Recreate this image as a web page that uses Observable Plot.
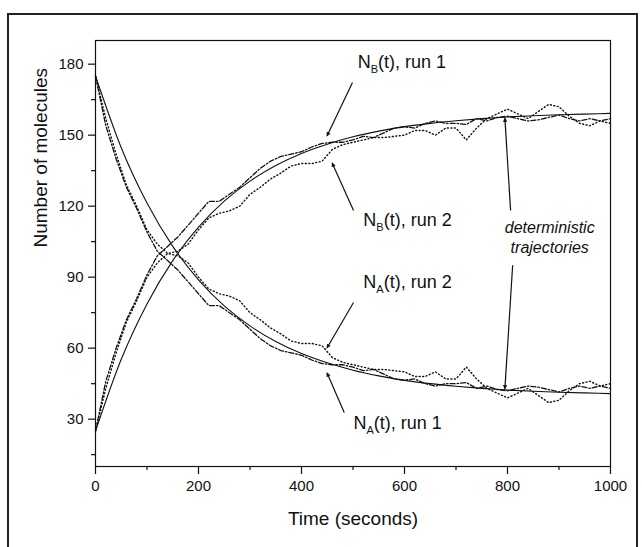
<!DOCTYPE html>
<html><head><meta charset="utf-8">
<script src="https://cdn.jsdelivr.net/npm/d3@7"></script>
<script src="https://cdn.jsdelivr.net/npm/@observablehq/plot@0.6"></script>
<style>
body{margin:0;background:#fff;}
#wrap{position:relative;width:642px;height:547px;overflow:hidden;font-family:"Liberation Sans",Arial,sans-serif;background:#fff;}
#frame{position:absolute;left:7px;top:13px;width:631px;height:600px;border:2.5px solid #222;box-sizing:border-box;}
#chart{position:absolute;left:0;top:0;}
</style></head><body>
<div id="wrap"><div id="frame"></div><div id="chart"></div></div>
<script>
// stochastic runs, sampled every 20 s
const time = [0,20,40,60,80,100,120,140,160,180,200,220,240,260,280,300,320,340,360,380,400,420,440,460,480,500,520,540,560,580,600,620,640,660,680,700,720,740,760,780,800,820,840,860,880,900,920,940,960,980,1000];
const nA1 = [175,154,140,128,119,109,101,97,93,88,83,78,78,75,72,68,64,61,59,58,57,55,53.5,53,53,52,50.5,51,49,47,46.5,47,45,44,45,45,45.5,43,44,42.5,42,43,44,43.5,42.5,41.5,43,44,43,44,43];
const nB1 = [25,46,60,72,81,91,99,103,107,112,117,122,122,125,128,132,136,139,141,142,143,145,146.5,147,147,148,149.5,149,151,153,153.5,153,155,156,155,155,154.5,157,156,157.5,158,157,156,156.5,157.5,158.5,157,156,157,156,157];
const nA2 = [175,157,142,129,120,110,104,100,99,96,90,85,83,82,80,75,72,68.5,66,63,62,62,61,56,54,53,52,51,51,50.5,50,48,48,50,47,47,52,47,43,41,39,41,43,40,37,38,42,45,46,44,45];
const nB2 = [25,43,58,71,80,90,96,100,101,104,110,115,117,118,120,125,128,131.5,134,137,138,138,139,144,146,147,148,149,149,149.5,150,152,152,150,153,153,148,153,157,159,161,159,157,160,163,162,158,155,154,156,155];
// deterministic trajectories, sampled every 50 s
const detTime = [0,50,100,150,200,250,300,350,400,450,500,550,600,650,700,750,800,850,900,950,1000];
const detA = [175,144.7,121.3,103,88.9,77.9,69.4,62.8,57.7,53.8,50.7,48.3,46.4,45,43.9,43,42.3,41.8,41.4,41.1,40.8];
const detB = [25,55.3,78.7,97,111.1,122.1,130.6,137.2,142.3,146.2,149.3,151.7,153.6,155,156.1,157,157.7,158.2,158.6,158.9,159.2];
// axis ticks
const xMajor = [0,200,400,600,800,1000];
const xMinor = [100,300,500,700,900];
const yMajor = [30,60,90,120,150,180];
const yMinor = [15,45,75,105,135,165];
// annotations (data units)
const labels = [
  {t:509, v:180.7, s:"N_B(t), run 1"},
  {t:520, v:114, s:"N_B(t), run 2"},
  {t:520, v:87.8, s:"N_A(t), run 2"},
  {t:501, v:28.2, s:"N_A(t), run 1"}
];
const detLabels = [{t:882, v:111, s:"deterministic"},{t:882, v:102.5, s:"trajectories"}];
const arrows = [
  {t1:499, v1:172.3, t2:450, v2:149.9},
  {t1:501, v1:118.2, t2:460, v2:138},
  {t1:501, v1:79.3, t2:450, v2:60.3},
  {t1:483, v1:32.8, t2:450, v2:49.3},
  {t1:806, v1:118.2, t2:795, v2:157},
  {t1:810, v1:95, t2:795, v2:43}
];

const runs = time.map((t,i)=>({t, a1:nA1[i], b1:nB1[i], a2:nA2[i], b2:nB2[i]}));
const det = detTime.map((t,i)=>({t, a:detA[i], b:detB[i]}));
const ink = "#111";

const svg = Plot.plot({
  width: 642, height: 547,
  marginTop: 40, marginRight: 32, marginBottom: 81, marginLeft: 95,
  style: {fontFamily: '"Liberation Sans", Arial, sans-serif', fontSize: "15px", color: ink, background: "transparent"},
  x: {domain: [0,1000]},
  y: {domain: [10,190]},
  marks: [
    Plot.frame({stroke: ink, strokeWidth: 1.2}),
    Plot.axisX({ticks: xMajor, tickSize: 8, tickPadding: 6, fontSize: 15, tickFormat: d => String(d), label: null, stroke: ink, strokeWidth: 1.2}),
    Plot.axisX({ticks: xMinor, tickSize: 4, tickFormat: () => "", label: null, stroke: ink, strokeWidth: 1.2}),
    Plot.axisY({ticks: yMajor, tickSize: 7, tickPadding: 5, fontSize: 15, tickFormat: d => String(d), label: null, stroke: ink, strokeWidth: 1.2}),
    Plot.axisY({ticks: yMinor, tickSize: 4, tickFormat: () => "", label: null, stroke: ink, strokeWidth: 1.2}),
    Plot.line(det, {x: "t", y: "a", curve: "monotone-x", stroke: ink, strokeWidth: 1.1}),
    Plot.line(det, {x: "t", y: "b", curve: "monotone-x", stroke: ink, strokeWidth: 1.1}),
    Plot.line(runs, {x: "t", y: "a1", stroke: ink, strokeWidth: 1.3, strokeDasharray: "5,2,1.5,2"}),
    Plot.line(runs, {x: "t", y: "b1", stroke: ink, strokeWidth: 1.3, strokeDasharray: "5,2,1.5,2"}),
    Plot.line(runs, {x: "t", y: "a2", stroke: ink, strokeWidth: 1.4, strokeDasharray: "1,2.5"}),
    Plot.line(runs, {x: "t", y: "b2", stroke: ink, strokeWidth: 1.4, strokeDasharray: "1,2.5"}),
    Plot.link(arrows, {x1: "t1", y1: "v1", x2: "t2", y2: "v2", stroke: ink, strokeWidth: 1.2, markerEnd: "arrow"}),
    Plot.text(labels, {x: "t", y: "v", text: "s", textAnchor: "start", fontSize: 18, fill: ink}),
    Plot.text(detLabels, {x: "t", y: "v", text: "s", textAnchor: "middle", fontSize: 16, fontStyle: "italic", fill: ink}),
    Plot.text(["Time (seconds)"], {frameAnchor: "bottom", dy: 58, text: d => d, fontSize: 19, fill: ink}),
    Plot.text(["Number of molecules"], {frameAnchor: "left", dx: -55, dy: -6, rotate: -90, text: d => d, fontSize: 19, fill: ink})
  ]
});

// subscripts in the annotation labels
d3.select(svg).selectAll("text").each(function(){
  const s = this.textContent;
  const m = s.match(/^N_([AB])(.*)$/);
  if (!m) return;
  this.textContent = "";
  const sel = d3.select(this);
  sel.append("tspan").text("N");
  sel.append("tspan").attr("font-size", "11px").attr("dy", "5").text(m[1]);
  sel.append("tspan").attr("dy", "-5").text(m[2]);
});
// filled arrow heads
d3.select(svg).selectAll("marker path")
  .attr("d", "M-4,-2.6L2,0L-4,2.6Z")
  .attr("fill", ink).attr("stroke", "none");

document.getElementById("chart").appendChild(svg);
</script>
</body></html>
